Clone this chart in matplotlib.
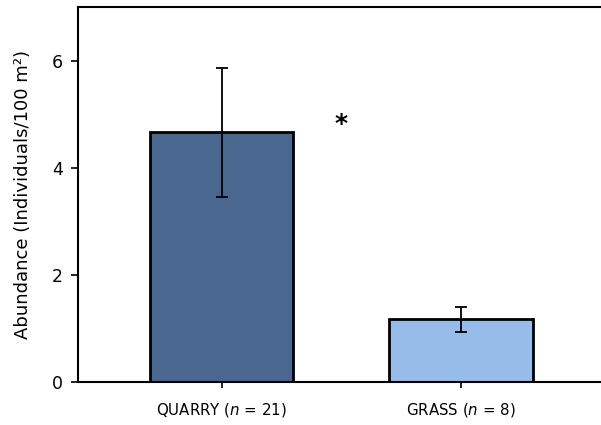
import matplotlib
matplotlib.use('Agg')
from matplotlib import pyplot as plt

# data
sites = ['QUARRY ($n$ = 21)', 'GRASS ($n$ = 8)']
abundance = [4.66, 1.17]
se = [1.21, 0.23]
colours = ['#4a6790', '#97bce9']

fig = plt.figure(figsize=(6.01, 4.25), dpi=100)
ax = fig.add_axes([0.1298, 0.1012, 0.8702, 0.8823])

x = range(len(sites))
ax.bar(x, abundance, width=0.6, color=colours, edgecolor='black', linewidth=2,
       yerr=se, capsize=4.5, error_kw={'elinewidth': 1.3, 'capthick': 1.3, 'ecolor': 'black'},
       zorder=2)

# significance marker
ax.text(0.5, 4.82, '*', ha='center', va='center', fontsize=18, fontweight='bold')

ax.set_xlim(-0.60, 1.586)
ax.set_ylim(0, 7)
ax.set_yticks([0, 2, 4, 6])
ax.set_xticks(list(x))
ax.set_xticklabels(sites, fontsize=10.8)
ax.tick_params(axis='y', labelsize=12.5, length=5, width=1.2, pad=6)
ax.tick_params(axis='x', length=4, width=1.2, pad=10)
ax.set_ylabel('Abundance (Individuals/100 m²)', fontsize=13, labelpad=14)

for side in ['left', 'bottom', 'top']:
    ax.spines[side].set_linewidth(1.5)
ax.spines['right'].set_visible(False)

fig.savefig('out.png', dpi=100)
